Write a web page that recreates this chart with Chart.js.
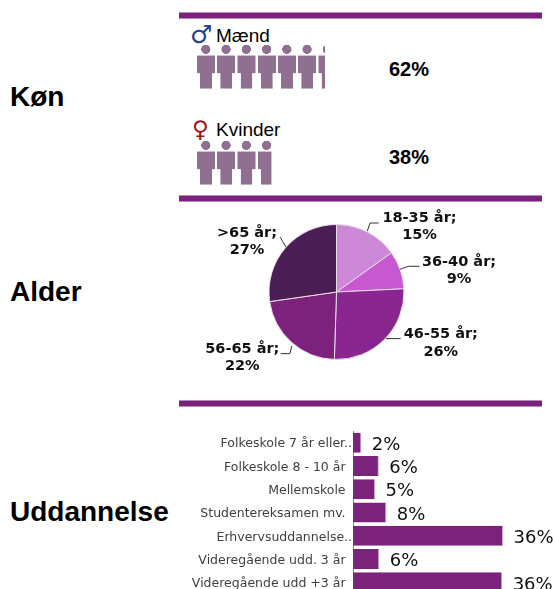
<!DOCTYPE html>
<html><head><meta charset="utf-8">
<script src="https://cdn.jsdelivr.net/npm/chart.js@4"></script>
<style>
html,body{margin:0;padding:0;background:#fff;width:553px;height:589px;overflow:hidden}
#page{position:relative;width:553px;height:589px;overflow:hidden;font-family:"Liberation Sans",Arial,sans-serif;color:#000}
.abs{position:absolute;white-space:nowrap}
.rule{position:absolute;left:179px;width:363px;height:7px;box-sizing:border-box;background:#7b227c;border-top:1px solid #b98bbb;border-bottom:1px solid #b98bbb}
.sec{font-weight:bold;font-size:28px;line-height:32px;left:10px}
.name{font-size:19px;line-height:22px;left:216px}
.pct{font-weight:bold;font-size:20px;line-height:24px;left:389px}
.sym{font-family:"DejaVu Sans";font-weight:bold;line-height:28px}
canvas{position:absolute;display:block}
</style></head><body>
<div id="page">
<div class="rule" style="top:12px"></div>
<div class="rule" style="top:195px"></div>
<div class="rule" style="top:400px"></div>
<div class="abs sec" id="t1" style="top:81px">Køn</div>
<div class="abs sec" style="top:276px">Alder</div>
<div class="abs sec" style="top:496px">Uddannelse</div>
<div class="abs sym" style="left:190px;top:21px;font-size:25px;color:#27408f">♂</div>
<div class="abs sym" style="left:192px;top:115px;font-size:23px;color:#a30f14">♀</div>
<div class="abs name" style="top:25px">Mænd</div>
<div class="abs name" style="top:119px">Kvinder</div>
<div class="abs pct" style="top:57px">62%</div>
<div class="abs pct" style="top:145px">38%</div>
<canvas id="men" width="206" height="49" style="left:197px;top:40px"></canvas>
<canvas id="women" width="195" height="49" style="left:197px;top:136px"></canvas>
<canvas id="pie" width="361" height="190" style="left:156px;top:197px"></canvas>
<canvas id="edu" width="373" height="163" style="left:180px;top:431px"></canvas>
</div>
<script>
const genderNames = ['Mænd', 'Kvinder'];
const genderValues = [62, 38];

const ageLabels = ['18-35 år', '36-40 år', '46-55 år', '56-65 år', '>65 år'];
const ageValues = [15, 9, 26, 22, 27];
const ageColors = ['#cc88d6', '#c858d0', '#8a2690', '#7c227c', '#4a1e54'];

const eduLabels = ['Folkeskole 7 år eller...', 'Folkeskole 8 - 10 år', 'Mellemskole', 'Studentereksamen mv.', 'Erhvervsuddannelse...', 'Videregående udd. 3 år', 'Videregående udd +3 år'];
const eduValues = [2, 6.2, 5.3, 8, 36, 6.3, 35.8];

Chart.defaults.animation = false;
Chart.defaults.devicePixelRatio = 1;
Chart.defaults.responsive = false;

/* person tile used as the fill of the pictogram bars */
function personPattern(ctx) {
  const s = 4, c = document.createElement('canvas');
  c.width = 81; c.height = 49 * s;
  const g = c.getContext('2d');
  g.scale(s, s);
  g.fillStyle = '#8f7090';
  g.beginPath(); g.arc(8.8, 9.3, 4.6, 0, Math.PI * 2); g.fill();
  g.fillRect(0, 15.5, 18, 17.8);
  g.fillRect(3.2, 33, 11.6, 15.5);
  const p = ctx.createPattern(c, 'repeat');
  p.setTransform(new DOMMatrix().scale(1 / s));
  return p;
}
function pictogram(id, name, value) {
  const ctx = document.getElementById(id).getContext('2d');
  new Chart(ctx, {
    type: 'bar',
    data: { labels: [name], datasets: [{ data: [value], backgroundColor: personPattern(ctx), borderWidth: 0, barPercentage: 1, categoryPercentage: 1 }] },
    options: {
      indexAxis: 'y',
      layout: { padding: 0 },
      plugins: { legend: { display: false }, tooltip: { enabled: false } },
      scales: { x: { display: false, min: 0, max: 100 }, y: { display: false } }
    }
  });
}
pictogram('men', genderNames[0], genderValues[0]);
pictogram('women', genderNames[1], genderValues[1]);

/* label placement relative to the pie centre: text centre + leader polyline */
const pieCallouts = [
  { tx: 83, ty: -65, line: [[42, -69], [33.5, -69], [30.8, -61]] },
  { tx: 122.5, ty: -21, line: [[83, -25.7], [72, -25.7], [63.5, -22.7]] },
  { tx: 104.3, ty: 51.3, line: [[64.2, 46.6], [49.5, 46.6]] },
  { tx: -94.2, ty: 66, line: [[-55.8, 61.6], [-46.5, 61.6], [-44.8, 54]] },
  { tx: -89.5, ty: -50, line: [[-56.5, -55], [-50.5, -45]] }
];
const pieLabelPlugin = {
  id: 'pieLabels',
  afterDatasetsDraw(chart) {
    const ctx = chart.ctx, arcs = chart.getDatasetMeta(0).data;
    ctx.save();
    arcs.forEach((arc, i) => {
      const c = pieCallouts[i];
      ctx.strokeStyle = '#333'; ctx.lineWidth = 1;
      ctx.beginPath();
      c.line.forEach((p, j) => j ? ctx.lineTo(arc.x + p[0], arc.y + p[1]) : ctx.moveTo(arc.x + p[0], arc.y + p[1]));
      ctx.stroke();
      ctx.fillStyle = '#111';
      ctx.font = 'bold 14.5px "DejaVu Sans"';
      ctx.textAlign = 'center'; ctx.textBaseline = 'middle';
      ctx.fillText(chart.data.labels[i] + ';', arc.x + c.tx, arc.y + c.ty - 8.7);
      ctx.fillText(chart.data.datasets[0].data[i] + '%', arc.x + c.tx, arc.y + c.ty + 8.7);
    });
    ctx.restore();
  }
};
new Chart(document.getElementById('pie'), {
  type: 'pie',
  data: { labels: ageLabels, datasets: [{ data: ageValues, backgroundColor: ageColors, borderColor: '#eadcec', borderWidth: 1 }] },
  options: {
    radius: 67.5,
    layout: { padding: 0 },
    plugins: { legend: { display: false }, tooltip: { enabled: false } }
  },
  plugins: [pieLabelPlugin]
});

const barLabelPlugin = {
  id: 'barLabels',
  afterDatasetsDraw(chart) {
    const ctx = chart.ctx;
    ctx.save();
    ctx.fillStyle = '#111';
    ctx.font = '18px "DejaVu Sans"';
    ctx.textAlign = 'left'; ctx.textBaseline = 'middle';
    chart.getDatasetMeta(0).data.forEach((bar, i) => {
      ctx.fillText(Math.round(eduValues[i]) + '%', bar.x + 10.5, bar.y + 2.5);
    });
    ctx.restore();
  }
};
new Chart(document.getElementById('edu'), {
  type: 'bar',
  data: { labels: eduLabels, datasets: [{ data: eduValues, backgroundColor: '#7b227c', borderColor: '#c9a8ca', borderWidth: { right: 1, top: 0, bottom: 0, left: 0 }, barPercentage: 1, categoryPercentage: 0.86 }] },
  options: {
    indexAxis: 'y',
    layout: { padding: 0 },
    plugins: { legend: { display: false }, tooltip: { enabled: false } },
    scales: {
      x: { display: false, min: 0, max: 48 },
      y: {
        z: 1,
        afterFit(s) { s.width = 173; s.paddingTop = 0; s.paddingBottom = 0; },
        grid: { display: false, drawTicks: false },
        border: { display: true, color: '#888', width: 1 },
        ticks: {
          padding: -3,
          labelOffset: 1.5,
          autoSkip: false,
          color: '#404040',
          font: { family: '"DejaVu Sans"', size: 12.5 },
          callback(v, i) { const t = eduLabels[i]; return t.endsWith('...') ? t : t + '\u00a0\u00a0\u2009'; }
        }
      }
    }
  },
  plugins: [barLabelPlugin]
});
</script>
</body></html>
